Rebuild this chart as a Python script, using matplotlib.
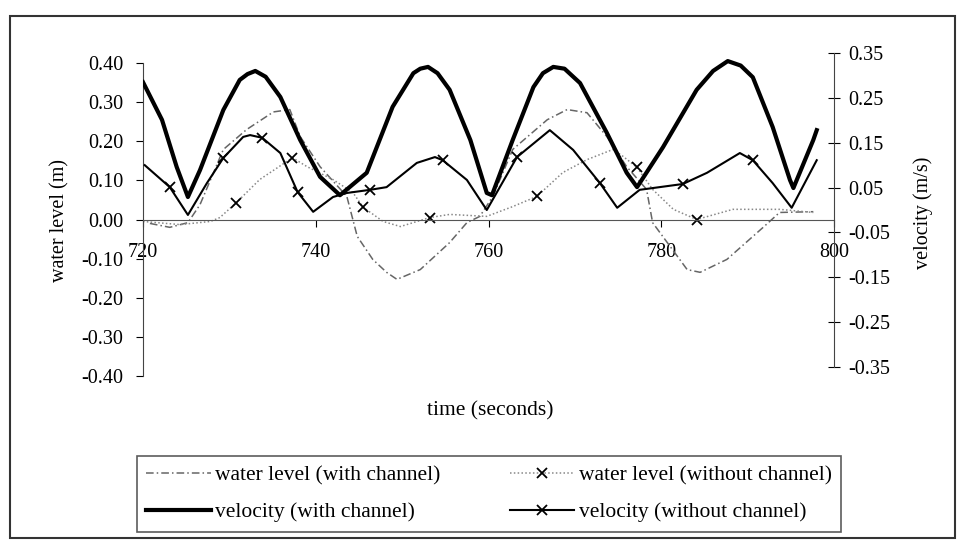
import numpy as np
import matplotlib
matplotlib.use("Agg")
import matplotlib.pyplot as plt
from matplotlib.patches import Rectangle

plt.rcParams['font.family'] = ['Liberation Serif', 'DejaVu Serif']
plt.rcParams['axes.unicode_minus'] = False

# water level (with channel), left axis
t_wl_ch = [720.8, 723.1, 725.2, 726.6, 729.3, 732.0, 735.1, 737.0, 738.2, 740.5, 743.6,
           744.8, 746.6, 748.2, 749.4, 752.1, 755.5, 757.5, 759.0, 760.5, 762.8, 766.8,
           769.1, 771.4, 773.7, 776.0, 778.3, 779.0, 780.7, 783.0, 784.5, 787.6, 791.8,
           793.7, 797.6]
wl_ch = [-0.010, -0.020, -0.008, 0.038, 0.179, 0.230, 0.275, 0.281, 0.212, 0.135, 0.059,
         -0.043, -0.102, -0.135, -0.153, -0.128, -0.059, -0.008, 0.008, 0.059, 0.179, 0.255,
         0.281, 0.273, 0.212, 0.135, 0.077, -0.008, -0.059, -0.128, -0.135, -0.102, -0.020,
         0.018, 0.020]

# water level (without channel), left axis
t_wl_noch = [720.0, 724.3, 727.8, 728.9, 730.8, 733.5, 737.3, 739.0, 742.0, 744.3, 745.5,
             747.8, 749.8, 753.2, 755.5, 759.8, 762.8, 765.6, 768.6, 771.4, 774.4, 775.6,
             777.2, 779.0, 781.4, 784.1, 788.3, 793.7, 797.6]
wl_noch = [-0.005, -0.013, -0.005, 0.005, 0.043, 0.102, 0.158, 0.135, 0.102, 0.069, 0.031,
           -0.005, -0.018, 0.005, 0.013, 0.008, 0.033, 0.059, 0.120, 0.153, 0.179, 0.161,
           0.133, 0.077, 0.026, 0.000, 0.026, 0.026, 0.018]
wl_noch_marks = [4, 6, 10, 13, 17, 22, 25]

# velocity (with channel), right axis
t_vel_ch = [720.0, 722.2, 723.9, 725.2, 726.6, 729.3, 731.2, 732.1, 733.0, 734.2, 735.9,
            738.2, 740.5, 742.8, 745.9, 748.9, 751.3, 752.1, 753.0, 754.1, 755.5, 757.9,
            759.8, 760.4, 762.8, 765.2, 766.3, 767.5, 768.8, 770.6, 773.7, 776.0, 777.2,
            780.2, 784.1, 786.0, 787.7, 789.2, 790.6, 792.9, 794.9, 795.3, 797.6, 798.0]
vel_ch = [0.285, 0.201, 0.096, 0.029, 0.089, 0.223, 0.290, 0.303, 0.310, 0.297, 0.252,
          0.156, 0.074, 0.033, 0.083, 0.230, 0.305, 0.315, 0.319, 0.305, 0.268, 0.156,
          0.038, 0.033, 0.156, 0.274, 0.305, 0.319, 0.315, 0.283, 0.172, 0.083, 0.051,
          0.140, 0.268, 0.310, 0.332, 0.322, 0.296, 0.185, 0.067, 0.049, 0.156, 0.178]

# velocity (without channel), right axis
t_vel_noch = [720.2, 723.1, 725.2, 727.4, 729.3, 731.6, 732.4, 733.8, 735.9, 737.9, 739.7,
              742.0, 743.6, 746.3, 748.2, 751.7, 753.8, 754.7, 757.5, 759.8, 763.3, 767.1,
              769.8, 772.9, 774.9, 777.5, 782.5, 785.3, 789.1, 790.6, 792.9, 795.1, 798.0]
vel_noch = [0.100, 0.051, -0.011, 0.060, 0.116, 0.163, 0.167, 0.161, 0.127, 0.040, -0.004,
            0.029, 0.038, 0.045, 0.051, 0.105, 0.118, 0.111, 0.067, 0.000, 0.118, 0.178,
            0.134, 0.060, 0.005, 0.045, 0.058, 0.083, 0.127, 0.111, 0.060, 0.005, 0.111]
vel_noch_marks = [1, 4, 7, 9, 13, 17, 20, 23, 26, 29]

x_ticks = [720, 740, 760, 780, 800]
left_ticks = [0.40, 0.30, 0.20, 0.10, 0.00, -0.10, -0.20, -0.30, -0.40]
right_ticks = [0.35, 0.25, 0.15, 0.05, -0.05, -0.15, -0.25, -0.35]

fs = 14.5
fig = plt.figure(figsize=(9.59, 5.44), dpi=100)
ax = fig.add_axes([143/959, 1-376/544, (834-143)/959, (376-53)/544])
ax2 = ax.twinx()

l1, = ax.plot(t_wl_ch, wl_ch, color='#666666', lw=1.1, ls=(0, (5, 2, 1, 2)))
l3, = ax.plot(t_wl_noch, wl_noch, color='#888888', lw=1.1, ls=(0, (1, 1.5)),
              marker='x', markevery=wl_noch_marks, ms=7, mec='black', mew=1.3)
l2, = ax2.plot(t_vel_ch, vel_ch, color='black', lw=3)
l4, = ax2.plot(t_vel_noch, vel_noch, color='black', lw=1.5,
               marker='x', markevery=vel_noch_marks, ms=7, mew=1.3)

ax.set_xlim(720, 800)
ax.set_ylim(-0.4, 0.4256)
ax2.set_ylim(-0.370, 0.35)

for s in ['top', 'right']:
    ax.spines[s].set_visible(False)
for s in ['top', 'bottom', 'left']:
    ax2.spines[s].set_visible(False)
ax.spines['bottom'].set_position(('data', 0))
ax.spines['bottom'].set_color('#555555')
ax.spines['left'].set_bounds(-0.4, 0.4)
ax.spines['left'].set_color('#444444')
ax2.spines['right'].set_bounds(-0.35, 0.35)
ax2.spines['right'].set_color('#444444')

ax.set_xticks(x_ticks)
ax.set_xticklabels([str(v) for v in x_ticks])
ax.set_yticks(left_ticks)
ax.set_yticklabels(['%.2f' % v for v in left_ticks])
ax2.set_yticks(right_ticks)
ax2.set_yticklabels(['%.2f' % v for v in right_ticks])

ax.tick_params(axis='x', direction='out', length=5, pad=12, labelsize=fs)
ax.tick_params(axis='y', direction='out', length=5, pad=9, labelsize=fs)
ax2.tick_params(axis='y', direction='inout', length=8, pad=6, labelsize=fs)

fig.text(60/959, 1-220/544, 'water level (m)', rotation=90, ha='center', va='center', fontsize=fs)
fig.text(923/959, 1-213/544, 'velocity (m/s)', rotation=90, ha='center', va='center', fontsize=fs)
fig.text(490/959, 1-411/544, 'time (seconds)', ha='center', va='center', fontsize=15.5)

leg = fig.legend([l1, l2, l3, l4],
                 ['water level (with channel)', 'velocity (with channel)',
                  'water level (without channel)', 'velocity (without channel)'],
                 ncol=2, loc='center', bbox_to_anchor=(489/959, 1-494/544),
                 fontsize=15.5, frameon=True, fancybox=False, edgecolor='#333333',
                 handlelength=3.0, handletextpad=0.2, columnspacing=3.2,
                 labelspacing=0.75, borderpad=0.45)
leg.get_frame().set_linewidth(1.2)

fig.patches.append(Rectangle((10/959, 1-538/544), 945/959, 522/544, transform=fig.transFigure,
                             fill=False, edgecolor='#333333', lw=1.5))

plt.savefig('out.png', dpi=100)
